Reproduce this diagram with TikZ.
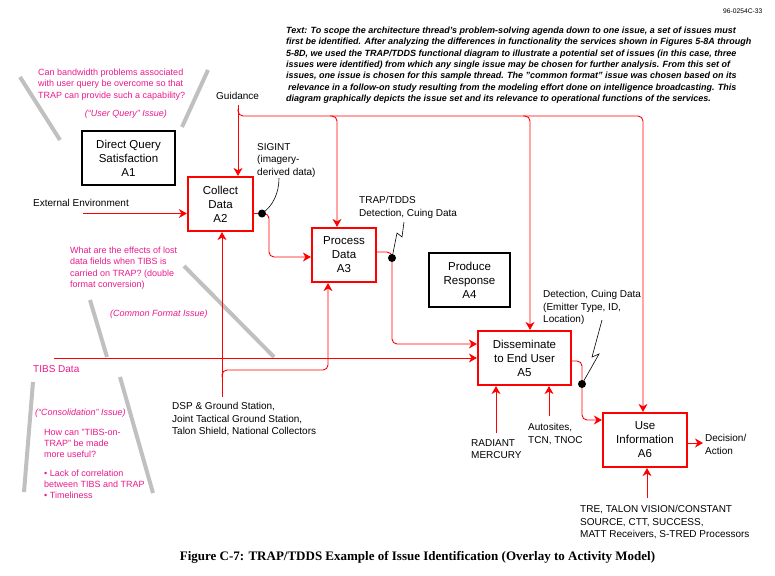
\documentclass[tikz,border=0pt]{standalone}
\usepackage{fontspec}
\setmainfont{Liberation Sans}
\newfontfamily\capfont{Liberation Serif}
\usetikzlibrary{arrows.meta}
\definecolor{issuepink}{RGB}{235,25,140}
\definecolor{idefred}{RGB}{255,0,0}
\definecolor{markgray}{RGB}{192,192,192}
\tikzset{
  actbox/.style={line width=2.2pt, minimum height=54pt, align=center, inner sep=0pt,
    font=\fontsize{11.5}{14}\selectfont},
  redbox/.style={actbox, draw=idefred},
  blackbox/.style={actbox, draw=black, line width=2pt},
  flow/.style={draw=idefred, line width=0.9pt, rounded corners=5pt},
  flowarrow/.style={flow, -{Stealth[length=8pt,width=9pt,inset=2.5pt]}},
  lbl/.style={font=\fontsize{10}{12.3}\selectfont, align=left, inner sep=0pt, anchor=north west},
  issue/.style={lbl, text=issuepink, font=\fontsize{9}{11.5}\selectfont},
  issuetitle/.style={issue, font=\fontsize{9}{11}\selectfont\itshape, anchor=west},
  blackdot/.style={circle, fill=black, inner sep=0pt, minimum size=8pt},
  callout/.style={draw=black, line width=0.6pt},
  marker/.style={draw=markgray, line width=4pt},
}
\begin{document}
\begin{tikzpicture}[x=1pt,y=-1pt]
\useasboundingbox (0,0) rectangle (775,575);

% grey issue markers
\draw[marker] (20,77) -- (60,140);
\draw[marker] (208,70) -- (182,127);
\draw[marker] (90,300) -- (107,357);
\draw[marker] (184,266) -- (274,357);
\draw[marker] (33,382) -- (24,492);
\draw[marker] (120,377) -- (153,493);

% activity boxes
\node[blackbox, minimum width=93pt] (a1) at (128.5,158) {Direct Query\\Satisfaction\\A1};
\node[redbox, minimum width=65pt] (a2) at (220.5,204) {Collect\\Data\\A2};
\node[redbox, minimum width=64pt] (a3) at (344,255) {Process\\Data\\A3};
\node[blackbox, minimum width=81pt] (a4) at (469.5,280) {Produce\\Response\\A4};
\node[redbox, minimum width=93pt] (a5) at (524.5,358) {Disseminate\\to End User\\A5};
\node[redbox, minimum width=84pt] (a6) at (645,440) {Use\\Information\\A6};

% guidance bus
\coordinate (guidtop) at (238,105);
\coordinate (busL) at (238,116);
\coordinate (busR) at (643,116);
\coordinate (b3) at (337,116);
\coordinate (b5) at (530,116);
\draw[flowarrow] (guidtop) -- (guidtop |- a2.north);
\draw[flowarrow] ([yshift=7pt]busL) -- (busL) -- (busR) -- (busR |- a6.north);
\draw[flowarrow] ([xshift=-7pt]b3) -- (b3) -- (b3 |- a3.north);
\draw[flowarrow] ([xshift=-7pt]b5) -- (b5) -- (b5 |- a5.north);

% external environment
\coordinate (ext) at (83,213.5);
\draw[flowarrow] (ext) -- (ext -| a2.west);

% A2 -> A3
\coordinate (k2) at (269,257);
\draw[flowarrow] (ext -| a2.east) -- (k2 |- ext) -- (k2) -- (k2 -| a3.west);
\node[blackdot] (d2) at (262,213.5) {};
\coordinate (sigtip) at (279,178);
\draw[callout] (d2.center) .. controls (273,206) and (279,193) .. (sigtip);

% A3 -> A5
\coordinate (o3) at ([yshift=3pt]a3.east);
\coordinate (k3) at (392,344);
\draw[flowarrow] (o3) -- (k3 |- o3) -- (k3) -- (k3 -| a5.west);
\node[blackdot] (d3) at (392,258) {};
\coordinate (trapt) at (404,222);
\draw[callout] (trapt) -- (402,237) -- (397,233) -- (d3.center);

% TIBS data
\coordinate (tibs) at (54,358);
\draw[flowarrow] (tibs) -- (tibs -| a5.west);

% DSP mechanisms
\coordinate (dsp) at (222,397);
\coordinate (dspbus) at (222,370);
\coordinate (k4) at (328,370);
\draw[flowarrow] (dsp) -- (dsp |- a2.south);
\draw[flowarrow] ([yshift=-7pt]dspbus) -- (dspbus) -- (k4) -- (k4 |- a3.south);

% A5 mechanisms
\coordinate (rad) at (496,433);
\coordinate (auto) at (549,416);
\draw[flowarrow] (rad) -- (rad |- a5.south);
\draw[flowarrow] (auto) -- (auto |- a5.south);

% A5 -> A6
\coordinate (o5) at ([yshift=-3pt]a5.east);
\coordinate (k5) at (582,420);
\draw[flowarrow] (o5) -- (k5 |- o5) -- (k5) -- (k5 -| a6.west);
\node[blackdot] (d5) at (582,384) {};
\coordinate (dett) at (602,320);
\draw[callout] (dett) -- (592,357) -- (599,354) -- (d5.center);

% A6 output and mechanism
\coordinate (dec) at (703,443);
\draw[flowarrow] (dec -| a6.east) -- (dec);
\coordinate (tre) at (647,498);
\draw[flowarrow] (tre) -- (tre |- a6.south);

% black labels
\node[lbl, anchor=west] (guidlbl) at (216,96) {Guidance};
\node[lbl, anchor=west] (extlbl) at (33,203) {External Environment};
\node[lbl] (siglbl) at (257,143.3) {SIGINT\\(imagery-\\derived data)};
\node[lbl] (traplbl) at (359,196.3) {TRAP/TDDS\\Detection, Cuing Data};
\node[lbl] (detlbl) at (543,290.3) {Detection, Cuing Data\\(Emitter Type, ID,\\Location)};
\node[lbl] (dsplbl) at (172,402.3) {DSP \& Ground Station,\\Joint Tactical Ground Station,\\Talon Shield, National Collectors};
\node[lbl] (radlbl) at (471,439.3) {RADIANT\\MERCURY};
\node[lbl] (autolbl) at (528,423.3) {Autosites,\\TCN, TNOC};
\node[lbl] (declbl) at (705,434.3) {Decision/\\Action};
\node[lbl] (trelbl) at (580,505.3) {TRE, TALON VISION/CONSTANT\\SOURCE, CTT, SUCCESS,\\MATT Receivers, S-TRED Processors};
\node[lbl, anchor=west, text=issuepink] (tibslbl) at (33,369) {TIBS Data};

% issue texts
\node[issue] (q1) at (38,68.7) {Can bandwidth problems associated\\with user query be overcome so that\\TRAP can provide such a capability?};
\node[issuetitle, anchor=center] (t1) at (126,114) {(“User Query” Issue)};
\node[issue] (q2) at (70,246.7) {What are the effects of lost\\data fields when TIBS is\\carried on TRAP? (double\\format conversion)};
\node[issuetitle] (t2) at (110,314) {(Common Format Issue)};
\node[issuetitle] (t3) at (35,413) {(“Consolidation” Issue)};
\node[issue, font=\fontsize{9}{11}\selectfont] (q3) at (44,428.7) {How can "TIBS-on-\\TRAP" be made\\more useful?};
\node[issue, font=\fontsize{9}{11}\selectfont] (q3b) at (44,469.7) {• Lack of correlation\\between TIBS and TRAP\\• Timeliness};

% header text
\node[lbl, anchor=west, font=\fontsize{6.7}{8}\selectfont] (docid) at (723,11) {96-0254C-33};
\node[lbl, font=\fontsize{9}{11.3}\selectfont\bfseries\itshape] (para) at (286,26.8) {Text:  To scope the architecture thread's problem-solving agenda down to one issue, a set of issues must\\first be identified.  After analyzing the differences in functionality the services shown in Figures 5-8A through\\5-8D, we used the TRAP/TDDS functional diagram to illustrate a potential set of issues (in this case, three\\issues were identified) from which any single issue may be chosen for further analysis.  From this set of\\issues, one issue is chosen for this sample thread.  The "common format" issue was chosen based on its\\\hspace*{2pt}relevance in a follow-on study resulting from the modeling effort done on intelligence broadcasting.  This\\diagram graphically depicts the issue set and its relevance to operational functions of the services.};

% caption
\node[font=\capfont\bfseries\fontsize{13}{15}\selectfont, inner sep=0pt] (caption) at (417.5,557) {Figure C-7:  TRAP/TDDS Example of Issue Identification (Overlay to Activity Model)};
\end{tikzpicture}
\end{document}
